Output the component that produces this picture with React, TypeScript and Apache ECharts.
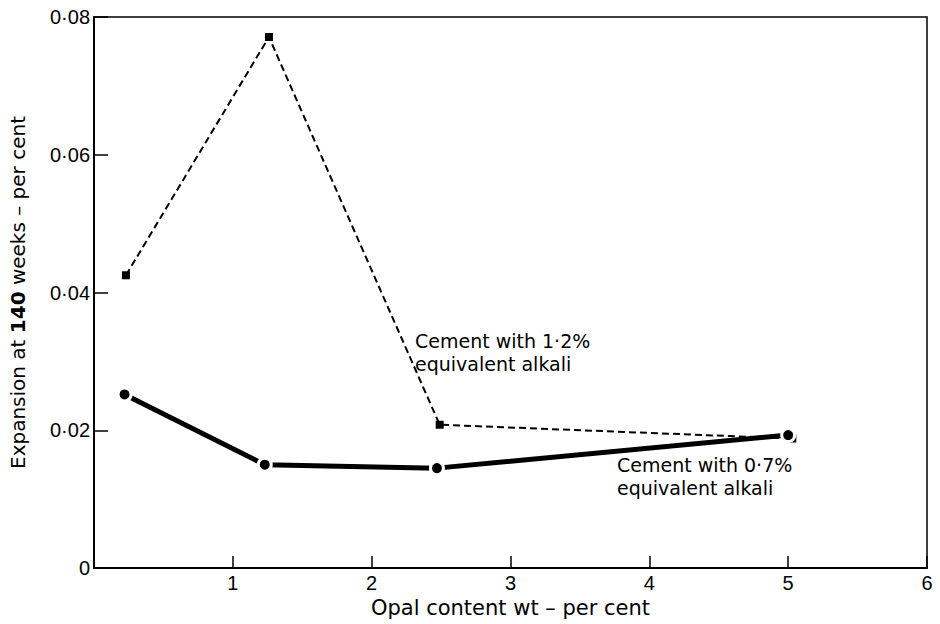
import React, { useEffect, useRef } from "react";
import * as echarts from "echarts";

const highAlkaliX = [0.23, 1.26, 2.49, 5.03];
const highAlkaliY = [0.0425, 0.0771, 0.0208, 0.0188];
const lowAlkaliX = [0.22, 1.23, 2.47, 5.0];
const lowAlkaliY = [0.0252, 0.015, 0.0145, 0.0193];
const xTicks = [0, 1, 2, 3, 4, 5, 6];
const yTicks = [0, 0.02, 0.04, 0.06, 0.08];
const highLabel = "Cement with 1·2%\nequivalent alkali";
const lowLabel = "Cement with 0·7%\nequivalent alkali";

const NUM_FONT = "Liberation Sans, Arial, sans-serif";
const WORD_FONT = "DejaVu Sans, Verdana, sans-serif";

export default function App() {
  const ref = useRef<HTMLDivElement>(null);
  useEffect(() => {
    if (!ref.current) return;
    const chart = echarts.init(ref.current, null, { renderer: "svg" });
    chart.setOption({
      animation: false,
      backgroundColor: "#fff",
      textStyle: { fontFamily: NUM_FONT, color: "#000" },
      grid: {
        left: 92,
        top: 17,
        right: 13,
        bottom: 56,
        show: true,
        borderColor: "#000",
        borderWidth: 1.5,
      },
      xAxis: {
        type: "value",
        min: xTicks[0],
        max: xTicks[xTicks.length - 1],
        interval: 1,
        name: "Opal content wt – per cent",
        nameLocation: "middle",
        nameGap: 29,
        nameTextStyle: { fontSize: 21, color: "#000", fontFamily: WORD_FONT },
        axisLine: { lineStyle: { color: "#000", width: 2 } },
        axisTick: { inside: true, length: 12, lineStyle: { color: "#000", width: 1.5 } },
        axisLabel: {
          fontSize: 20,
          color: "#000",
          margin: 5,
          fontFamily: NUM_FONT,
          formatter: (v: number) => (v === 0 ? "" : String(v)),
        },
        splitLine: { show: false },
      },
      yAxis: {
        type: "value",
        min: yTicks[0],
        max: yTicks[yTicks.length - 1],
        interval: 0.02,
        name: "Expansion at {b|140} weeks – per cent",
        nameLocation: "middle",
        nameGap: 66,
        nameTextStyle: {
          fontSize: 20,
          color: "#000",
          fontFamily: WORD_FONT,
          rich: { b: { fontSize: 20, fontWeight: "bold", fontFamily: WORD_FONT } },
        },
        axisLine: { lineStyle: { color: "#000", width: 2 } },
        axisTick: { inside: true, length: 14, lineStyle: { color: "#000", width: 1.5 } },
        axisLabel: {
          fontSize: 20,
          color: "#000",
          margin: 4,
          fontFamily: NUM_FONT,
          formatter: (v: number) => (v === 0 ? "0" : v.toFixed(2).replace(".", "·")),
        },
        splitLine: { show: false },
      },
      series: [
        {
          type: "line",
          data: highAlkaliX.map((x, i) => [x, highAlkaliY[i]]),
          symbol: "rect",
          symbolSize: 8,
          itemStyle: { color: "#000" },
          lineStyle: { color: "#000", width: 2, type: [7, 4] },
          z: 2,
        },
        {
          type: "line",
          data: lowAlkaliX.map((x, i) => [x, lowAlkaliY[i]]),
          symbol: "circle",
          symbolSize: 13,
          itemStyle: { color: "#000", borderColor: "#fff", borderWidth: 3 },
          lineStyle: { color: "#000", width: 5 },
          z: 3,
        },
      ],
      graphic: [
        {
          type: "text",
          left: 415,
          top: 329,
          style: { text: highLabel, fontSize: 19, fontFamily: WORD_FONT, fill: "#000", lineHeight: 23 },
        },
        {
          type: "text",
          left: 617,
          top: 453,
          style: { text: lowLabel, fontSize: 19, fontFamily: WORD_FONT, fill: "#000", lineHeight: 23 },
        },
      ],
    });
    return () => chart.dispose();
  }, []);
  return <div ref={ref} style={{ width: 940, height: 624, position: "absolute", left: 0, top: 0 }} />;
}
